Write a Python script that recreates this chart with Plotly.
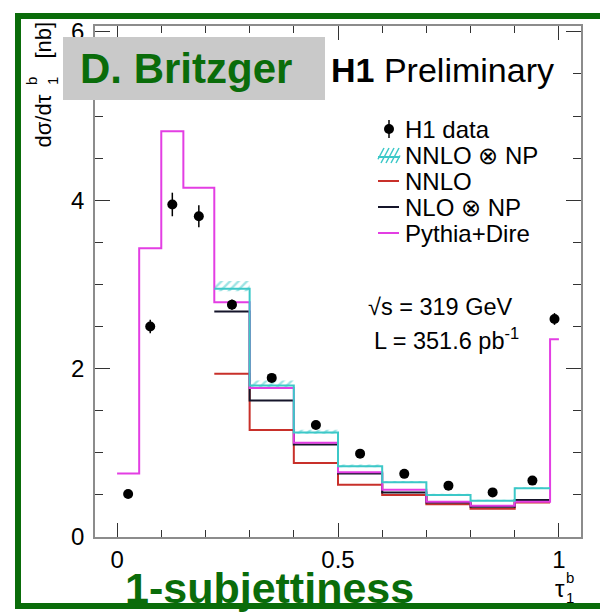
import plotly.graph_objects as go

# ---------------- data ----------------
edges = [0.0, 0.05, 0.1, 0.15, 0.22, 0.3, 0.4, 0.5, 0.6, 0.7, 0.8, 0.9, 0.98, 1.0]

h1_data = [0.51, 2.50, 3.95, 3.81, 2.76, 1.89, 1.33, 0.99, 0.75, 0.61, 0.53, 0.67, 2.59]
h1_err = [0.03, 0.08, 0.14, 0.13, 0.06, 0.04, 0.03, 0.03, 0.02, 0.02, 0.02, 0.03, 0.07]

pythia_dire = [0.754, 3.43, 4.82, 4.15, 2.79, 1.77, 1.12, 0.77, 0.56, 0.42, 0.37, 0.42, 2.35]

# theory predictions cover bins 0.22 .. 0.98
theory_first_bin = 4
nnlo_np = [2.95, 1.80, 1.24, 0.84, 0.65, 0.50, 0.43, 0.58]
nnlo_np_up = [0.09, 0.06, 0.035, 0.02, 0.015, 0.015, 0.012, 0.012]
nnlo_np_down = [0.03, 0.02, 0.015, 0.01, 0.008, 0.008, 0.006, 0.006]
nnlo = [1.94, 1.27, 0.88, 0.62, 0.50, 0.39, 0.335, 0.41]
nlo_np = [2.68, 1.62, 1.10, 0.755, 0.53, 0.41, 0.36, 0.44]

x_ticks = [0, 0.5, 1]
x_ticklabels = ["0", "0.5", "1"]
y_ticks = [0, 2, 4, 6]
y_ticklabels = ["0", "2", "4", "6"]

legend_labels = ["H1 data", "NNLO \u2297 NP", "NNLO", "NLO \u2297 NP", "Pythia+Dire"]

# ---------------- styling ----------------
FONT = "Liberation Sans, Arial, Helvetica, sans-serif"
C_PINK = "#e33ee3"
C_RED = "#c8302a"
C_BLACK = "#15152a"
C_CYAN = "#3cc8c8"
C_GREEN = "#0a6c0a"

W, H = 600, 616
L, R, T, B = 95, 581, 26, 537


def pxx(x):
    return (x - L) / (R - L)


def pxy(y):
    return (B - y) / (B - T)


centers = [(edges[i] + edges[i + 1]) / 2 for i in range(len(edges) - 1)]
widths = [edges[i + 1] - edges[i] for i in range(len(edges) - 1)]

th_edges = edges[theory_first_bin:theory_first_bin + len(nnlo) + 1]
th_centers = centers[theory_first_bin:theory_first_bin + len(nnlo)]
th_widths = widths[theory_first_bin:theory_first_bin + len(nnlo)]


def step(ed, vals):
    return list(ed), list(vals) + [vals[-1]]


fig = go.Figure()

# NNLO x NP hatched uncertainty band
fig.add_trace(go.Bar(
    x=th_centers, width=th_widths,
    base=[v - d for v, d in zip(nnlo_np, nnlo_np_down)],
    y=[u + d for u, d in zip(nnlo_np_up, nnlo_np_down)],
    marker=dict(color="rgba(0,0,0,0)", line=dict(width=0),
                pattern=dict(shape="/", fgcolor=C_CYAN, bgcolor="rgba(0,0,0,0)",
                             size=6, solidity=0.4)),
    hoverinfo="skip", showlegend=False,
))

for vals, col in [(nnlo, C_RED), (nlo_np, C_BLACK)]:
    xs, ys = step(th_edges, vals)
    fig.add_trace(go.Scatter(x=xs, y=ys, mode="lines", line=dict(color=col, width=2, shape="hv"),
                             showlegend=False, hoverinfo="skip"))

xs, ys = step(edges, pythia_dire)
fig.add_trace(go.Scatter(x=xs, y=ys, mode="lines", line=dict(color=C_PINK, width=2, shape="hv"),
                         showlegend=False, hoverinfo="skip"))

xs, ys = step(th_edges, nnlo_np)
fig.add_trace(go.Scatter(x=xs, y=ys, mode="lines", line=dict(color=C_CYAN, width=2, shape="hv"),
                         showlegend=False, hoverinfo="skip"))

fig.add_trace(go.Scatter(
    x=centers, y=h1_data, mode="markers",
    marker=dict(color="black", size=10),
    error_y=dict(type="data", array=h1_err, thickness=1.5, width=0, color="black"),
    showlegend=False,
))

axis_common = dict(
    showgrid=False, zeroline=False, showline=True, linecolor="#8c8c8c", linewidth=1.5,
    mirror="ticks", ticks="inside", tickcolor="#333333", tickwidth=1.2,
    tickfont=dict(family=FONT, size=24, color="black"),
)

fig.update_xaxes(range=[-0.05, 1.05], tickvals=x_ticks, ticktext=x_ticklabels, ticklen=14,
                 minor=dict(dtick=0.1, tick0=0, ticks="inside", ticklen=7, tickcolor="#333333"),
                 **axis_common)
fig.update_yaxes(range=[0, 6.07], tickvals=y_ticks, ticktext=y_ticklabels, ticklen=15,
                 ticklabelstandoff=4,
                 minor=dict(dtick=0.5, tick0=0, ticks="inside", ticklen=8, tickcolor="#333333"),
                 **axis_common)

shapes = []
annotations = []

# outer green frame (top, left, bottom; right edge lies outside the picture)
for (xa, ya, xb, yb) in [(15, 16, 600, 16), (18, 13, 18, 609), (15, 606, 600, 606)]:
    shapes.append(dict(type="line", xref="paper", yref="paper",
                       x0=pxx(xa), x1=pxx(xb), y0=pxy(ya), y1=pxy(yb),
                       line=dict(color=C_GREEN, width=6), layer="above"))
# gray name box
shapes.append(dict(type="rect", xref="paper", yref="paper",
                   x0=pxx(63), x1=pxx(325), y0=pxy(100), y1=pxy(37),
                   line=dict(width=0), fillcolor="#c9c9c9", layer="above"))

annotations.append(dict(text="<b>D. Britzger</b>", x=pxx(186), y=pxy(68), xref="paper", yref="paper",
                        xanchor="center", yanchor="middle", showarrow=False,
                        font=dict(family=FONT, size=42, color=C_GREEN)))
annotations.append(dict(text="<b>H1</b> Preliminary", x=pxx(329), y=pxy(70), xref="paper", yref="paper",
                        xanchor="left", yanchor="middle", showarrow=False,
                        font=dict(family=FONT, size=34, color="black")))
annotations.append(dict(text="\u221As = 319 GeV", x=pxx(366), y=pxy(307), xref="paper", yref="paper",
                        xanchor="left", yanchor="middle", showarrow=False,
                        font=dict(family=FONT, size=23.5, color="black")))
annotations.append(dict(text="L = 351.6 pb<sup>-1</sup>", x=pxx(372), y=pxy(339), xref="paper", yref="paper",
                        xanchor="left", yanchor="middle", showarrow=False,
                        font=dict(family=FONT, size=23.5, color="black")))
annotations.append(dict(text="<b>1-subjettiness</b>", x=pxx(123), y=pxy(588), xref="paper", yref="paper",
                        xanchor="left", yanchor="middle", showarrow=False,
                        font=dict(family=FONT, size=43, color=C_GREEN)))

# x-axis title tau_1^b
annotations.append(dict(text="\u03c4", x=pxx(560), y=pxy(588), xref="paper", yref="paper",
                        xanchor="center", yanchor="middle", showarrow=False,
                        font=dict(family=FONT, size=24, color="black")))
annotations.append(dict(text="b", x=pxx(570), y=pxy(577), xref="paper", yref="paper",
                        xanchor="center", yanchor="middle", showarrow=False,
                        font=dict(family=FONT, size=15, color="black")))
annotations.append(dict(text="1", x=pxx(570), y=pxy(597), xref="paper", yref="paper",
                        xanchor="center", yanchor="middle", showarrow=False,
                        font=dict(family=FONT, size=15, color="black")))

# y-axis title d sigma / d tau_1^b [nb]
annotations.append(dict(text="d\u03c3/d\u03c4", x=pxx(43), y=pxy(150), xref="paper", yref="paper",
                        xanchor="center", yanchor="bottom", showarrow=False, textangle=-90,
                        font=dict(family=FONT, size=22, color="black")))
annotations.append(dict(text="b", x=pxx(31), y=pxy(81), xref="paper", yref="paper",
                        xanchor="center", yanchor="middle", showarrow=False, textangle=-90,
                        font=dict(family=FONT, size=15, color="black")))
annotations.append(dict(text="1", x=pxx(52), y=pxy(81), xref="paper", yref="paper",
                        xanchor="center", yanchor="middle", showarrow=False, textangle=-90,
                        font=dict(family=FONT, size=15, color="black")))
annotations.append(dict(text="[nb]", x=pxx(43), y=pxy(20), xref="paper", yref="paper",
                        xanchor="center", yanchor="top", showarrow=False, textangle=-90,
                        font=dict(family=FONT, size=22, color="black")))

# manual legend
leg_y = [129, 155, 181, 207, 233]
for lab, yy in zip(legend_labels, leg_y):
    annotations.append(dict(text=lab, x=pxx(403), y=pxy(yy), xref="paper", yref="paper",
                            xanchor="left", yanchor="middle", showarrow=False,
                            font=dict(family=FONT, size=24, color="black")))
# data symbol
shapes.append(dict(type="circle", xref="paper", yref="paper",
                   x0=pxx(384), x1=pxx(394), y0=pxy(134), y1=pxy(124),
                   fillcolor="black", line=dict(width=0)))
shapes.append(dict(type="line", xref="paper", yref="paper",
                   x0=pxx(389), x1=pxx(389), y0=pxy(138), y1=pxy(120),
                   line=dict(color="black", width=1.5)))
# hatched symbol
for k in range(5):
    x0 = 376 + k * 5
    shapes.append(dict(type="line", xref="paper", yref="paper",
                       x0=pxx(max(x0, 378)), x1=pxx(min(x0 + 8, 400)),
                       y0=pxy(163 - (max(x0, 378) - x0) * 15 / 8),
                       y1=pxy(148 + (x0 + 8 - min(x0 + 8, 400)) * 15 / 8),
                       line=dict(color=C_CYAN, width=1.5)))
shapes.append(dict(type="line", xref="paper", yref="paper",
                   x0=pxx(378), x1=pxx(400), y0=pxy(157), y1=pxy(157),
                   line=dict(color=C_CYAN, width=2)))
for yy, col in [(181, C_RED), (207, C_BLACK), (233, C_PINK)]:
    shapes.append(dict(type="line", xref="paper", yref="paper",
                       x0=pxx(378), x1=pxx(399), y0=pxy(yy), y1=pxy(yy),
                       line=dict(color=col, width=2)))

fig.update_layout(
    width=W, height=H,
    margin=dict(l=L, r=W - R, t=T, b=H - B, pad=0),
    paper_bgcolor="white", plot_bgcolor="white",
    showlegend=False, barmode="overlay",
    shapes=shapes, annotations=annotations,
    font=dict(family=FONT),
)

fig.write_html("out.html")
